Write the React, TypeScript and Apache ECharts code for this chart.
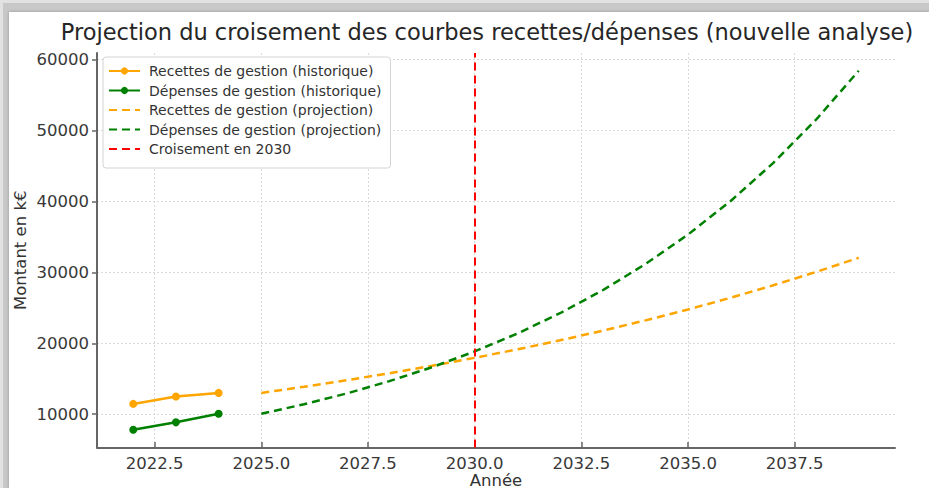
import React, { useEffect, useRef } from "react";
import * as echarts from "echarts";

const titleText = "Projection du croisement des courbes recettes/dépenses (nouvelle analyse)";
const histYears = [2022, 2023, 2024];
const recettesHist = [11450, 12500, 13000];
const depensesHist = [7800, 8850, 10050];
const projYears = [2025, 2026, 2027, 2028, 2029, 2030, 2031, 2032, 2033, 2034, 2035, 2036, 2037, 2038, 2039];
const recettesProj = [13000, 13870, 14790, 15770, 16820, 17950, 19140, 20420, 21770, 23230, 24770, 26420, 28180, 30060, 32060];
const depensesProj = [10050, 11400, 12920, 14660, 16620, 18850, 21370, 24240, 27480, 31170, 35340, 40080, 45450, 51540, 58450];
const crossingYear = 2030;
const xTicks = [2022.5, 2025, 2027.5, 2030, 2032.5, 2035, 2037.5];
const yTicks = [10000, 20000, 30000, 40000, 50000, 60000];

const names = [
  "Recettes de gestion (historique)",
  "Dépenses de gestion (historique)",
  "Recettes de gestion (projection)",
  "Dépenses de gestion (projection)",
  "Croisement en 2030",
];

const ORANGE = "#FFA500";
const GREEN = "#008000";
const RED = "#FF0000";
const FONT = "DejaVu Sans";
const DASH = [8, 5];

const pairs = (xs: number[], ys: number[]) => xs.map((x, i) => [x, ys[i]]);

export default function App() {
  const ref = useRef<HTMLDivElement>(null);
  useEffect(() => {
    const chart = echarts.init(ref.current!, null, { renderer: "svg" });
    const axisCommon = {
      nameLocation: "middle" as const,
      nameMoveOverlap: false,
      nameTextStyle: { fontSize: 16.5, color: "#333", fontFamily: FONT },
      axisLine: { show: true, onZero: false, lineStyle: { color: "#666", width: 2 } },
      splitLine: { show: true, lineStyle: { color: "#dadada", type: [2, 2], width: 1 } },
    };
    chart.setOption({
      animation: false,
      textStyle: { fontFamily: FONT },
      grid: { left: 97, right: 34, top: 53, bottom: 40.5, containLabel: false, outerBoundsMode: "none" },
      graphic: [
        {
          type: "text",
          x: 487,
          y: 32,
          style: {
            text: titleText,
            font: `22.5px "${FONT}"`,
            fill: "#262626",
            textAlign: "center",
            textVerticalAlign: "middle",
          },
        },
      ],
      legend: {
        orient: "vertical",
        left: 103,
        top: 57,
        padding: [7, 9, 12, 5],
        itemWidth: 31,
        itemHeight: 9,
        itemGap: 5.5,
        backgroundColor: "#fff",
        borderColor: "#d4d4d4",
        borderWidth: 1,
        borderRadius: 3,
        textStyle: { fontSize: 14, color: "#333", fontFamily: FONT, lineHeight: 14, padding: [0, 0, 0, 4] },
        data: [
          { name: names[0] },
          { name: names[1] },
          { name: names[2], itemStyle: { opacity: 0 } },
          { name: names[3], itemStyle: { opacity: 0 } },
          { name: names[4], itemStyle: { opacity: 0 } },
        ],
      },
      xAxis: {
        ...axisCommon,
        type: "value",
        min: 2021.15,
        max: 2039.85,
        name: "Année",
        nameGap: 24,
        axisTick: { show: true, inside: true, length: 5.5, customValues: xTicks, lineStyle: { color: "#666", width: 1.5 } },
        axisLabel: {
          customValues: xTicks,
          formatter: (v: number) => v.toFixed(1),
          fontSize: 16.5,
          color: "#383838",
          margin: 7,
        },
      },
      yAxis: {
        ...axisCommon,
        type: "value",
        min: 5300,
        max: 60950,
        name: "Montant en k€",
        nameGap: 68,
        axisTick: { show: true, length: 5, customValues: yTicks, lineStyle: { color: "#666", width: 1.5 } },
        axisLabel: {
          customValues: yTicks,
          formatter: (v: number) => String(v),
          fontSize: 16.5,
          color: "#383838",
          margin: 8,
        },
      },
      series: [
        {
          name: names[0],
          type: "line",
          data: pairs(histYears, recettesHist),
          symbol: "circle",
          symbolSize: 8,
          lineStyle: { color: ORANGE, width: 2.5 },
          itemStyle: { color: ORANGE },
        },
        {
          name: names[1],
          type: "line",
          data: pairs(histYears, depensesHist),
          symbol: "circle",
          symbolSize: 8,
          lineStyle: { color: GREEN, width: 2.5 },
          itemStyle: { color: GREEN },
        },
        {
          name: names[2],
          type: "line",
          data: pairs(projYears, recettesProj),
          symbol: "none",
          lineStyle: { color: ORANGE, width: 2.5, type: DASH },
          itemStyle: { color: ORANGE },
        },
        {
          name: names[3],
          type: "line",
          data: pairs(projYears, depensesProj),
          symbol: "none",
          lineStyle: { color: GREEN, width: 2.5, type: DASH },
          itemStyle: { color: GREEN },
        },
        {
          name: names[4],
          type: "line",
          data: [],
          symbol: "none",
          lineStyle: { color: RED, width: 2, type: DASH },
          itemStyle: { color: RED },
          markLine: {
            silent: true,
            symbol: ["none", "none"],
            label: { show: false },
            lineStyle: { color: RED, width: 2, type: DASH },
            data: [{ xAxis: crossingYear }],
          },
        },
      ],
    });
    return () => chart.dispose();
  }, []);
  return (
    <div style={{ position: "fixed", left: 0, top: 0, width: 929, height: 488, background: "#e2e2e2", overflow: "hidden" }}>
      <div style={{ position: "absolute", left: 3, top: 3, right: 0, bottom: 0, background: "#c8c8c8" }} />
      <div style={{ position: "absolute", left: 9, top: 12, right: 0, bottom: 0, background: "#fff", boxShadow: "0 0 3px rgba(0,0,0,0.25)" }} />
      <div ref={ref} style={{ position: "absolute", left: 0, top: 0, width: 929, height: 488 }} />
    </div>
  );
}
